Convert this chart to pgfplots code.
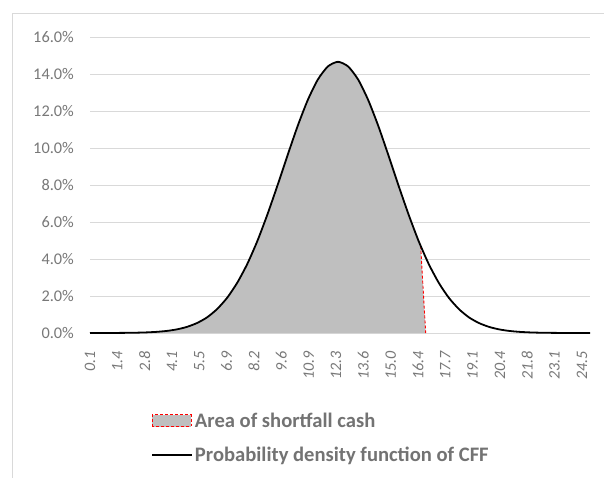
\documentclass[border=0pt]{standalone}
\usepackage{pgfplots}
\pgfplotsset{compat=1.18}
\usepackage{fontspec}
\setmainfont{Carlito}
\definecolor{areagray}{RGB}{191,191,191}
\definecolor{gridgray}{RGB}{217,217,217}
\definecolor{labelgray}{RGB}{120,120,120}
\definecolor{legendgray}{RGB}{115,115,115}
\definecolor{framegray}{RGB}{217,217,217}
\begin{document}
\begin{tikzpicture}
\useasboundingbox (0bp,0bp) rectangle (604bp,478bp);
\fill[white] (0bp,0bp) rectangle (604bp,478bp);
\draw[framegray, line width=0.8bp] (12bp,-2bp) -- (12bp,465bp) -- (606bp,465bp);
\begin{axis}[
  at={(90bp,145bp)}, anchor=south west,
  width=500bp, height=296bp, scale only axis,
  xmin=0.1, xmax=24.9, ymin=0, ymax=16,
  axis lines*=left,
  x axis line style={draw=gridgray, line width=0.8bp},
  y axis line style={draw=none},
  major tick length=0pt,
  ymajorgrids, grid style={draw=gridgray, line width=0.8bp},
  ytick={0,2,4,6,8,10,12,14,16},
  yticklabel={\pgfmathprintnumber[fixed,fixed zerofill,precision=1]{\tick}\%},
  /pgf/number format/assume math mode=true,
  yticklabel style={font=\fontsize{16.3bp}{16bp}\selectfont, text=labelgray, inner sep=0pt, xshift=-16bp},
  xtick={0.1,1.4556,2.8111,4.1667,5.5222,6.8778,8.2333,9.5889,10.9444,12.3,13.6556,15.0111,16.3667,17.7222,19.0778,20.4333,21.7889,23.1444,24.5},
  xticklabels={0.1,1.4,2.8,4.1,5.5,6.9,8.2,9.6,10.9,12.3,13.6,15.0,16.4,17.7,19.1,20.4,21.8,23.1,24.5},
  xticklabel style={rotate=90, anchor=east, inner sep=0pt, xshift=-18bp, font=\itshape\fontsize{16bp}{16bp}\selectfont, text=labelgray},
  legend style={at={(axis description cs:0.122,-0.262)}, anchor=north west, draw=none, fill=none, inner sep=0pt,
    font=\bfseries\fontsize{20.6bp}{20.6bp}\selectfont, text=legendgray, row sep=14bp,
    nodes={inner sep=2bp}},
  legend cell align=left,
  clip=false,
]
\addplot[fill=areagray, draw=none,
  legend image code/.code={\draw[fill=areagray, draw=red, densely dashed, line width=0.7bp] (0bp,-6bp) rectangle (39bp,6bp);}]
coordinates {
(0.1,0.000) (0.4,0.001) (0.9,0.002) (1.4,0.004) (1.9,0.009) (2.4,0.017) (2.9,0.033) (3.4,0.062)
(3.9,0.111) (4.4,0.194) (4.9,0.327) (5.4,0.535) (5.9,0.84) (6.4,1.29) (6.9,1.90) (7.4,2.71)
(7.9,3.73) (8.4,4.97) (8.9,6.41) (9.4,7.98) (9.9,9.61) (10.4,11.19) (10.9,12.59) (11.4,13.70)
(11.9,14.41) (12.4,14.66) (12.9,14.41) (13.4,13.70) (13.9,12.59) (14.4,11.19) (14.9,9.61)
(15.4,7.98) (15.9,6.41) (16.4,4.97) (16.5,4.71) (16.75,0)
} \closedcycle;
\addlegendentry{Area of shortfall cash}
\addplot[red, densely dashed, line width=0.9bp, forget plot] coordinates {(16.5,4.71) (16.75,0)};
\addplot[black, line width=1.8bp, smooth, tension=0.4,
  legend image code/.code={\draw[black, line width=1.8bp] (0bp,0bp) -- (40bp,0bp);}]
coordinates {
(0.1,0.000) (0.4,0.001) (0.9,0.002) (1.4,0.004) (1.9,0.009) (2.4,0.017) (2.9,0.033) (3.4,0.062)
(3.9,0.111) (4.4,0.194) (4.9,0.327) (5.4,0.535) (5.9,0.84) (6.4,1.29) (6.9,1.90) (7.4,2.71)
(7.9,3.73) (8.4,4.97) (8.9,6.41) (9.4,7.98) (9.9,9.61) (10.4,11.19) (10.9,12.59) (11.4,13.70)
(11.9,14.41) (12.4,14.66) (12.9,14.41) (13.4,13.70) (13.9,12.59) (14.4,11.19) (14.9,9.61)
(15.4,7.98) (15.9,6.41) (16.4,4.97) (16.9,3.73) (17.4,2.71) (17.9,1.90) (18.4,1.29) (18.9,0.84)
(19.4,0.535) (19.9,0.327) (20.4,0.194) (20.9,0.111) (21.4,0.062) (21.9,0.033) (22.4,0.017)
(22.9,0.009) (23.4,0.004) (23.9,0.002) (24.4,0.001) (24.9,0.000)
};
\addlegendentry{Probability density function of CFF}
\end{axis}
\end{tikzpicture}
\end{document}
